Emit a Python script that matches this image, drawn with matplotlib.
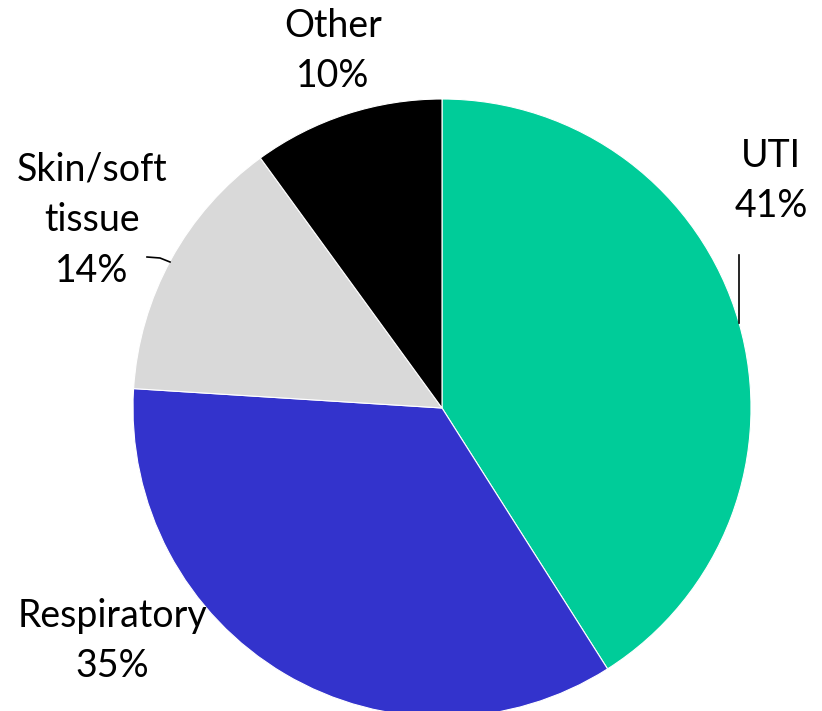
import matplotlib
matplotlib.use("Agg")
import matplotlib.pyplot as plt

categories = ["UTI", "Respiratory", "Skin/soft\ntissue", "Other"]
values = [41, 35, 14, 10]
colors = ["#00CC99", "#3333CC", "#D9D9D9", "#000000"]

W, H = 822, 711
fig = plt.figure(figsize=(W / 100, H / 100), dpi=100)
ax = fig.add_axes([0, 0, 1, 1])

cx, cy, r = 442, H - 408, 309
ax.pie(values, colors=colors, startangle=90, counterclock=False,
       center=(cx, cy), radius=r, frame=True,
       wedgeprops=dict(edgecolor="white", linewidth=0.8))
ax.set_xlim(0, W)
ax.set_ylim(0, H)
ax.set_aspect("equal")
ax.axis("off")

font = dict(family=["Lato", "DejaVu Sans"], fontsize=27, color="black",
            ha="center", va="center", linespacing=1.5)
label_pos = [(771, 181), (112, 641), (92, 220), (333, 51)]
for cat, v, (x, y) in zip(categories, values, label_pos):
    ax.text(x, H - y, f"{cat}\n{v}%", **font)

# leader lines
ax.plot([739, 739], [H - 255, H - 323], color="black", lw=1.2)
ax.plot([147, 160, 170], [H - 257, H - 258, H - 262], color="black", lw=1.2)

fig.savefig("out.png", dpi=100)
